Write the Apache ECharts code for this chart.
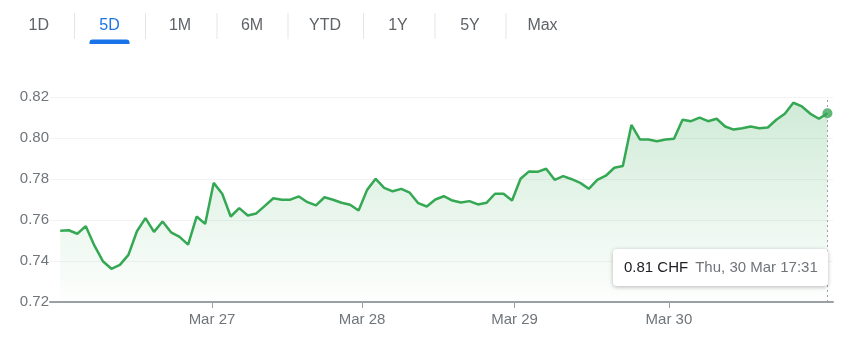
<!DOCTYPE html>
<html>
<head>
<meta charset="utf-8">
<script src="https://cdn.jsdelivr.net/npm/echarts@6/dist/echarts.min.js"></script>
<style>
html,body{margin:0;padding:0;background:#fff;}
#chart{width:845px;height:341px;}
</style>
</head>
<body>
<div id="chart"></div>
<script>
// ---- data ----
const tabLabels = ['1D', '5D', '1M', '6M', 'YTD', '1Y', '5Y', 'Max'];
const activeTab = '5D';
const prices = [
  0.7547, 0.7550, 0.7533, 0.7570, 0.7476, 0.7399, 0.7362, 0.7381, 0.7430, 0.7545,
  0.7609, 0.7542, 0.7593, 0.7540, 0.7518, 0.7480, 0.7617, 0.7581, 0.7781, 0.7728,
  0.7617, 0.7658, 0.7622, 0.7632, 0.7669, 0.7706, 0.7699, 0.7699, 0.7715, 0.7687,
  0.7671, 0.7711, 0.7699, 0.7684, 0.7674, 0.7646, 0.7747, 0.7801, 0.7757, 0.7740,
  0.7752, 0.7733, 0.7682, 0.7666, 0.7700, 0.7716, 0.7695, 0.7685, 0.7692, 0.7676,
  0.7684, 0.7728, 0.7728, 0.7695, 0.7801, 0.7837, 0.7835, 0.7850, 0.7796, 0.7814,
  0.7799, 0.7781, 0.7752, 0.7796, 0.7816, 0.7855, 0.7863, 0.8064, 0.7993, 0.7993,
  0.7984, 0.7993, 0.7996, 0.8089, 0.8082, 0.8099, 0.8082, 0.8094, 0.8056, 0.8041,
  0.8048, 0.8056, 0.8048, 0.8051, 0.8089, 0.8118, 0.8172, 0.8154, 0.8118, 0.8094,
  0.8121
];
const dayTickPositions = [17.8, 35.4, 53.3, 71.4];
const dayTickLabels = ['Mar 27', 'Mar 28', 'Mar 29', 'Mar 30'];
const yTicks = [0.72, 0.74, 0.76, 0.78, 0.80, 0.82];
const currency = 'CHF';
const lastTimeLabel = 'Thu, 30 Mar 17:31';

// ---- chart ----
const FONT = 'Arial, "Liberation Sans", sans-serif';
const CSSFONT = "Arial, 'Liberation Sans', sans-serif";
const GREEN = '#34a853';
const seriesData = prices.map((v, i) => [i, v]);
const lastIdx = prices.length - 1;

const tabCenters = [38.8, 109.5, 180, 252, 325, 398, 470, 542.5];
const sepX = [74.5, 145.5, 217, 288, 363.5, 435, 506];
const graphics = [];
tabLabels.forEach((t, i) => {
  graphics.push({
    type: 'text', x: tabCenters[i], y: 25.5,
    style: {
      text: t, font: '16px ' + FONT,
      fill: t === activeTab ? '#1a73e8' : '#5f6368',
      align: 'center', verticalAlign: 'middle'
    }
  });
});
sepX.forEach(x => {
  graphics.push({
    type: 'line', shape: { x1: x, y1: 13, x2: x, y2: 39 },
    style: { stroke: '#e3e5e8', lineWidth: 1 }
  });
});
const ai = tabLabels.indexOf(activeTab);
graphics.push({
  type: 'rect', shape: { x: tabCenters[ai] - 20, y: 39.5, width: 40, height: 4.5, r: [3, 3, 0, 0] },
  style: { fill: '#1a73e8' }
});

const chart = echarts.init(document.getElementById('chart'), null, { renderer: 'canvas' });
chart.setOption({
  animation: false,
  backgroundColor: '#fff',
  textStyle: { fontFamily: FONT },
  graphic: graphics,
  grid: { left: 50, right: 12, top: 97, bottom: 39, containLabel: false },
  xAxis: {
    type: 'value',
    min: -1.2,
    max: lastIdx + 0.65,
    axisLine: { show: true, lineStyle: { color: '#9aa0a6', width: 2 } },
    axisTick: { show: true, customValues: dayTickPositions, length: 6, lineStyle: { color: '#9aa0a6', width: 1 } },
    axisLabel: {
      show: true, customValues: dayTickPositions, margin: 10,
      color: '#70757a', fontSize: 15, fontFamily: FONT,
      formatter: v => {
        const k = dayTickPositions.findIndex(p => Math.abs(p - v) < 1e-6);
        return k >= 0 ? dayTickLabels[k] : '';
      }
    },
    splitLine: { show: false }
  },
  yAxis: {
    type: 'value',
    min: yTicks[0],
    max: yTicks[yTicks.length - 1],
    interval: 0.02,
    axisLine: { show: false },
    axisTick: { show: false },
    axisLabel: { color: '#70757a', fontSize: 15, fontFamily: FONT, margin: 1, formatter: v => v.toFixed(2) },
    splitLine: { show: true, lineStyle: { color: '#f3f3f3', width: 1 } }
  },
  tooltip: {
    trigger: 'axis',
    alwaysShowContent: true,
    showDelay: 0,
    transitionDuration: 0,
    backgroundColor: '#fff',
    borderWidth: 0,
    padding: [8, 10, 8, 11],
    position: [613, 249],
    extraCssText: 'box-shadow:0 1px 4px rgba(0,0,0,0.28);border-radius:4px;',
    axisPointer: {
      type: 'line',
      label: { show: false },
      lineStyle: { color: '#9aa0a6', type: [2, 3], width: 1 }
    },
    formatter: () => {
      const v = prices[lastIdx];
      return '<span style="font:15px ' + CSSFONT + ';color:#202124">' + v.toFixed(2) + ' ' + currency +
        '</span><span style="font:15px ' + CSSFONT + ';color:#70757a;margin-left:7px">' + lastTimeLabel + '</span>';
    }
  },
  series: [
    {
      type: 'line',
      data: seriesData,
      showSymbol: false,
      symbol: 'none',
      lineStyle: { color: GREEN, width: 2.5 },
      itemStyle: { color: GREEN },
      emphasis: { disabled: true },
      areaStyle: {
        color: {
          type: 'linear', x: 0, y: 0, x2: 0, y2: 1,
          colorStops: [
            { offset: 0, color: 'rgba(52,168,83,0.33)' },
            { offset: 1, color: 'rgba(52,168,83,0.01)' }
          ]
        }
      },
      z: 2
    },
    {
      type: 'scatter',
      data: [seriesData[lastIdx]],
      symbol: 'circle',
      symbolSize: 10,
      itemStyle: { color: GREEN },
      emphasis: { disabled: true },
      z: 3
    }
  ]
});
chart.dispatchAction({ type: 'showTip', seriesIndex: 0, dataIndex: lastIdx });
</script>
</body>
</html>
